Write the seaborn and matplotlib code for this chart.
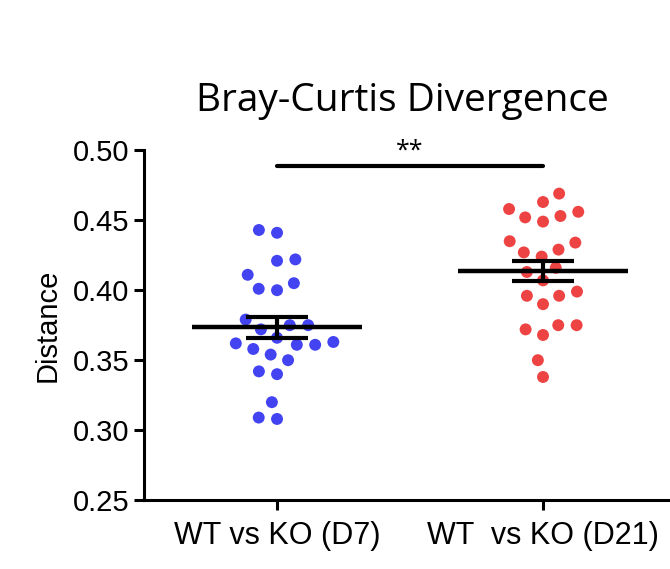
import numpy as np
import pandas as pd
import matplotlib
matplotlib.use('Agg')
import matplotlib.pyplot as plt
import seaborn as sns

# values
d7_distance = [0.443, 0.441, 0.422, 0.421, 0.411, 0.405, 0.400, 0.401, 0.379, 0.375,
               0.375, 0.372, 0.366, 0.362, 0.361, 0.361, 0.363, 0.354, 0.358, 0.350,
               0.342, 0.340, 0.320, 0.308, 0.309]
d21_distance = [0.469, 0.463, 0.456, 0.458, 0.452, 0.453, 0.449, 0.435, 0.434, 0.429,
                0.424, 0.427, 0.413, 0.416, 0.407, 0.396, 0.390, 0.396, 0.399, 0.375,
                0.372, 0.368, 0.375, 0.350, 0.338]
groups = ['WT vs KO (D7)', 'WT  vs KO (D21)']
colors = ['#4343F2', '#EE4343']
yticks = [0.25, 0.30, 0.35, 0.40, 0.45, 0.50]
sig_label = '**'

df = pd.DataFrame({
    'group': [groups[0]] * len(d7_distance) + [groups[1]] * len(d21_distance),
    'Distance': d7_distance + d21_distance,
})

sns.set_style('ticks')
plt.rcParams['font.family'] = ['Liberation Sans', 'DejaVu Sans']
plt.rcParams['text.color'] = 'black'
plt.rcParams['axes.labelcolor'] = 'black'
plt.rcParams['xtick.color'] = 'black'
plt.rcParams['ytick.color'] = 'black'

fig = plt.figure(figsize=(6.7, 5.69), dpi=100)
ax = fig.add_axes([0.215, 0.121, 0.79, 0.615])

# white edge keeps the swarm spacing wide while the dots stay small
sns.swarmplot(data=df, x='group', y='Distance', hue='group', palette=colors,
              order=groups, size=10.6, linewidth=2.0, edgecolor='white',
              legend=False, ax=ax, zorder=2)

# mean line + SEM error bar
stats = df.groupby('group', sort=False)['Distance'].agg(['mean', 'sem'])
for i, g in enumerate(groups):
    m = stats.loc[g, 'mean']
    se = stats.loc[g, 'sem']
    ax.hlines(m, i - 0.32, i + 0.32, color='black', lw=3.2, zorder=3)
    ax.errorbar(i, m, yerr=se, fmt='none', ecolor='black', elinewidth=3,
                capsize=22, capthick=3, zorder=3)

# significance bar
ax.plot([0, 1], [0.489, 0.489], color='black', lw=3, clip_on=False)
ax.text(0.5, 0.4905, sig_label, ha='center', va='bottom', fontsize=18,
        family=['Open Sans', 'DejaVu Sans'])

ax.set_ylim(0.25, 0.50)
ax.set_xlim(-0.5, 1.49)
ax.set_yticks(yticks)
ax.set_yticklabels(['%.2f' % t for t in yticks])
ax.set_xlabel('')
ax.set_ylabel('Distance', fontsize=21, labelpad=8)
ax.tick_params(axis='both', labelsize=21, width=2.2, length=7)
ax.tick_params(axis='x', labelsize=22, pad=8)
for side in ['left', 'bottom']:
    ax.spines[side].set_linewidth(2.2)
    ax.spines[side].set_color('black')
sns.despine(ax=ax)

fig.text(0.601, 0.822, 'Bray-Curtis Divergence', ha='center', va='center',
         fontsize=28, family=['Open Sans', 'DejaVu Sans'])

fig.savefig('out.png', dpi=100)
